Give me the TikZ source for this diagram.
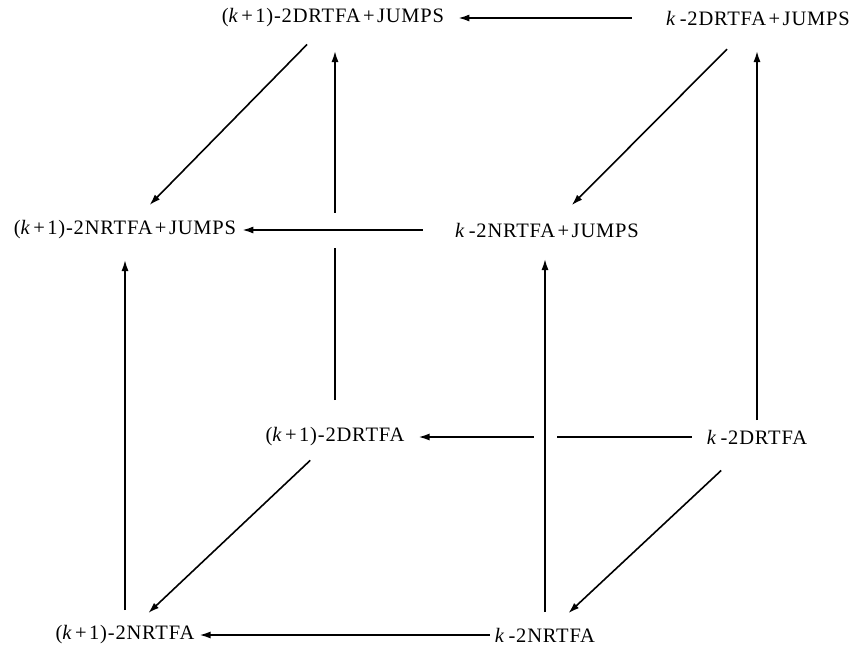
\documentclass[tikz,border=0pt]{standalone}
\usepackage{fontspec}
\setmainfont{Liberation Serif}[LetterSpace=4]
\usetikzlibrary{arrows.meta,calc}
\begin{document}
\begin{tikzpicture}[x=1pt,y=-1pt,
  lbl/.style={inner sep=0pt,font=\fontsize{20.5}{24}\selectfont},
  arr/.style={line width=1.6pt,-{Latex[length=11pt,width=7pt]}}]
\useasboundingbox (0,0) rectangle (853,651);
\newcommand{\kk}{\textit{k}}
\newcommand{\pl}{\hspace{0.12em}+\hspace{0.12em}}
\node[lbl] (a) at (333,18) {(\kk\pl1)-2DRTFA\pl JUMPS};
\node[lbl] (b) at (758,18) {\kk\,-2DRTFA\pl JUMPS};
\node[lbl] (c) at (125,230) {(\kk\pl1)-2NRTFA\pl JUMPS};
\node[lbl] (d) at (547,230) {\kk\,-2NRTFA\pl JUMPS};
\node[lbl] (e) at (335,437) {(\kk\pl1)-2DRTFA};
\node[lbl] (f) at (757,437) {\kk\,-2DRTFA};
\node[lbl] (g) at (125,635) {(\kk\pl1)-2NRTFA};
\node[lbl] (h) at (545,635) {\kk\,-2NRTFA};
% back verticals
\draw[arr,shorten <=37pt,shorten >=33pt] (e.center) -- (e.center |- a.center);
\draw[arr,shorten <=17pt,shorten >=33pt] (f.center) -- (f.center |- b.center);
% horizontals
\draw[arr,shorten <=34pt,shorten >=14pt] (b) -- (a);
\draw[arr,shorten <=32pt,shorten >=6pt] (d) -- (c);
\draw[draw=white,line width=35pt] ($(d.center)!0.46!(c.center)$) -- ($(d.center)!0.54!(c.center)$);
\draw[line width=1.6pt] ($(d.center)!0.45!(c.center)$) -- ($(d.center)!0.55!(c.center)$);
\draw[arr,shorten <=15pt,shorten >=14pt] (f) -- (e);
\draw[arr,shorten <=5pt,shorten >=5pt] (h) -- (g);
% front verticals
\draw[arr,shorten <=23pt,shorten >=29pt,preaction={draw=white,line width=23pt,-,shorten <=180pt,shorten >=180pt}] (h.center) -- (h.center |- d.center);
\draw[arr,shorten <=25pt,shorten >=30pt] (g.center) -- (c.center);
% diagonals
\draw[arr,shorten <=37pt,shorten >=35pt] (a.center) -- (c.center);
\draw[arr,shorten <=44pt,shorten >=35pt] (b.center) -- (d.center);
\draw[arr,shorten <=34pt,shorten >=32pt] (e.center) -- (g.center);
\draw[arr,shorten <=49pt,shorten >=32pt] (f.center) -- (h.center);
\end{tikzpicture}
\end{document}
